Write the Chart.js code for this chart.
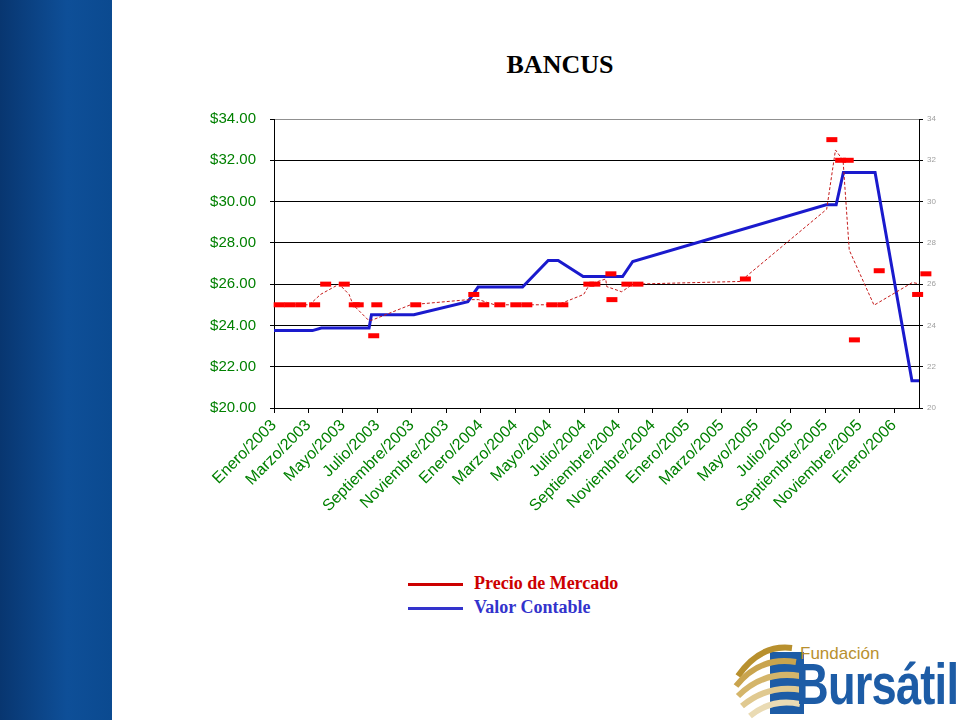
<!DOCTYPE html>
<html>
<head>
<meta charset="utf-8">
<script src="https://cdn.jsdelivr.net/npm/chart.js@4/dist/chart.umd.min.js"></script>
<style>
  body { margin: 0; width: 960px; height: 720px; background: #fff; position: relative; overflow: hidden; }
  #band { position: absolute; left: 0; top: 0; width: 112px; height: 720px;
          background: linear-gradient(to right, #083670, #0e4f98 60%, #0b4a90); }
  #title { position: absolute; left: 0; width: 1120px; top: 50px; text-align: center;
           font: bold 26px "Liberation Serif", "Times New Roman", serif; color: #000; }
  #chartBox { position: absolute; left: 160px; top: 96px; width: 800px; height: 444px; }
  #legend { position: absolute; left: 408px; top: 571px; font: bold 18px "Liberation Serif", serif; }
  #legend div { height: 24px; line-height: 24px; white-space: nowrap; }
  #legend span.sw { display: inline-block; width: 55px; height: 3px; vertical-align: middle; margin-right: 11px; }
  #logo { position: absolute; left: 730px; top: 636px; width: 230px; height: 84px; }
  #logo .fund { position: absolute; left: 70px; top: 8px; font: 17px "Liberation Sans", sans-serif; color: #b8902e; }
  #logo .burs { position: absolute; left: 66px; top: 14px; font: bold 58px "Liberation Sans", sans-serif;
                color: #1d5ca6; transform: scaleX(0.78); transform-origin: left top; letter-spacing: -1px; }
</style>
</head>
<body>
<div id="band"></div>
<div id="title">BANCUS</div>
<div id="chartBox"><canvas id="chart"></canvas></div>
<div id="legend"></div>
<div id="logo">
  <svg width="80" height="84" style="position:absolute;left:0;top:0">
    <rect x="40" y="16" width="34" height="62" fill="#1d5ca6"/>
    <path d="M8 40 Q30 8 62 12" stroke="#b8902e" stroke-width="6" fill="none"/>
    <path d="M6 50 Q30 20 66 26" stroke="#c9a44e" stroke-width="6" fill="none"/>
    <path d="M8 60 Q34 34 70 40" stroke="#d4b56a" stroke-width="6" fill="none"/>
    <path d="M12 70 Q38 48 72 54" stroke="#e0c990" stroke-width="6" fill="none"/>
    <path d="M20 80 Q42 62 70 68" stroke="#eadbb4" stroke-width="6" fill="none"/>
  </svg>
  <div class="fund">Fundación</div>
  <div class="burs">Bursátil</div>
</div>
<script>
// Eje x en meses desde Enero/2003
const tickMonths = [0, 2, 4, 6, 8, 10, 12, 14, 16, 18, 20, 22, 24, 26, 28, 30, 32, 34, 36];
const tickLabels = ['Enero/2003', 'Marzo/2003', 'Mayo/2003', 'Julio/2003', 'Septiembre/2003', 'Noviembre/2003',
  'Enero/2004', 'Marzo/2004', 'Mayo/2004', 'Julio/2004', 'Septiembre/2004', 'Noviembre/2004',
  'Enero/2005', 'Marzo/2005', 'Mayo/2005', 'Julio/2005', 'Septiembre/2005', 'Noviembre/2005', 'Enero/2006'];
const yTicks = [20, 22, 24, 26, 28, 30, 32, 34];

const seriesNames = ['Precio de Mercado', 'Valor Contable'];
const seriesColors = ['#cc0000', '#3333cc'];

// Valor Contable (linea azul)
const valorMeses = [0, 2.23, 2.75, 5.52, 5.66, 8.12, 11.26, 11.85, 14.43, 15.92, 16.5, 17.95, 20.24, 20.83,
  32.06, 32.64, 33.06, 34.9, 37.04, 37.45];
const valorContable = [23.75, 23.75, 23.87, 23.87, 24.52, 24.52, 25.15, 25.86, 25.86, 27.15, 27.15, 26.37, 26.37, 27.1,
  29.84, 29.84, 31.41, 31.41, 21.32, 21.32];

// Precio de Mercado (marcadores)
const precioMeses = [0.3, 0.91, 1.55, 2.36, 3.0, 4.08, 4.66, 4.89, 5.79, 5.97, 8.23, 11.6, 12.18, 13.11, 14.04, 14.68,
  16.13, 16.77, 18.28, 18.63, 19.56, 19.62, 20.49, 21.13, 27.37, 32.39, 32.9, 33.34, 33.7, 35.14, 37.37, 37.85];
const precioMercado = [25.0, 25.0, 25.0, 25.0, 26.0, 26.0, 25.0, 25.0, 23.5, 25.0, 25.0, 25.5, 25.0, 25.0, 25.0, 25.0,
  25.0, 25.0, 26.0, 26.0, 26.5, 25.25, 26.0, 26.0, 26.25, 33.0, 32.0, 32.0, 23.3, 26.65, 25.5, 26.5];

// linea de tendencia punteada
const tendenciaMeses = [0.61, 1.25, 2.06, 2.7, 3.78, 4.36, 4.59, 5.49, 5.67, 7.93, 11.3, 11.88, 12.81, 13.74, 14.38,
  15.83, 16.47, 17.98, 18.33, 19.26, 19.32, 20.19, 20.83, 27.07, 32.09, 32.6, 33.04, 33.4, 34.84, 37.07, 37.55];
const tendenciaValores = [25.0, 25.0, 25.0, 25.5, 26.0, 25.5, 25.0, 24.25, 24.25, 25.0, 25.25, 25.25, 25.0, 25.0, 25.0,
  25.0, 25.0, 25.5, 26.0, 26.25, 25.88, 25.63, 26.0, 26.13, 29.63, 32.5, 32.0, 27.65, 24.98, 26.08, 26.0];

const pts = (xs, ys) => xs.map((x, i) => ({ x: x, y: ys[i] }));

document.getElementById('legend').innerHTML = seriesNames.map((n, i) =>
  `<div style="color:${seriesColors[i]}"><span class="sw" style="background:${seriesColors[i]}"></span>${n}</div>`
).join('');

const green = '#008000';

new Chart(document.getElementById('chart'), {
  type: 'line',
  data: {
    datasets: [
      {
        label: seriesNames[0],
        data: pts(precioMeses, precioMercado),
        showLine: false,
        pointStyle: 'line',
        pointRadius: 5.5,
        pointBorderWidth: 5,
        borderColor: '#ff0000',
        backgroundColor: '#ff0000',
        clip: false,
        order: 1
      },
      {
        label: 'tendencia',
        data: pts(tendenciaMeses, tendenciaValores),
        borderColor: '#c41a1a',
        borderWidth: 1,
        borderDash: [3, 2],
        pointRadius: 0,
        tension: 0,
        order: 2
      },
      {
        label: seriesNames[1],
        data: pts(valorMeses, valorContable),
        borderColor: '#1a1acd',
        borderWidth: 3,
        pointRadius: 0,
        tension: 0,
        order: 3
      }
    ]
  },
  options: {
    responsive: true,
    maintainAspectRatio: false,
    animation: false,
    layout: { padding: { top: 14, left: 0, right: 0, bottom: 0 } },
    plugins: { legend: { display: false }, tooltip: { enabled: false } },
    scales: {
      x: {
        type: 'linear',
        min: 0,
        max: 37.45,
        afterBuildTicks: s => { s.ticks = tickMonths.map(v => ({ value: v })); },
        afterFit: s => { s.height = 132; },
        grid: { drawOnChartArea: false, color: '#000', tickLength: 5, tickColor: '#000' },
        border: { color: '#000' },
        ticks: {
          autoSkip: false,
          maxRotation: 45,
          minRotation: 45,
          padding: 3,
          color: green,
          font: { family: 'Liberation Sans', size: 16 },
          callback: v => tickLabels[tickMonths.indexOf(v)]
        }
      },
      y: {
        position: 'left',
        min: 20,
        max: 34,
        afterBuildTicks: s => { s.ticks = yTicks.map(v => ({ value: v })); },
        afterFit: s => { s.width = 114; },
        grid: {
          color: c => (c.tick && c.tick.value === 34 ? '#909090' : '#000'),
          tickColor: '#000',
          tickLength: 4
        },
        border: { color: '#000' },
        ticks: {
          padding: 14,
          color: green,
          font: { family: 'Liberation Sans', size: 15 },
          callback: v => '$' + v.toFixed(2)
        }
      },
      y2: {
        position: 'right',
        display: true,
        min: 20,
        max: 34,
        afterBuildTicks: s => { s.ticks = yTicks.map(v => ({ value: v })); },
        afterFit: s => { s.width = 41; },
        grid: { drawOnChartArea: false, color: '#000', tickLength: 4 },
        border: { color: '#000' },
        ticks: {
          padding: 4,
          color: '#a0a0a0',
          font: { family: 'Liberation Sans', size: 8 }
        }
      }
    }
  }
});
</script>
</body>
</html>
